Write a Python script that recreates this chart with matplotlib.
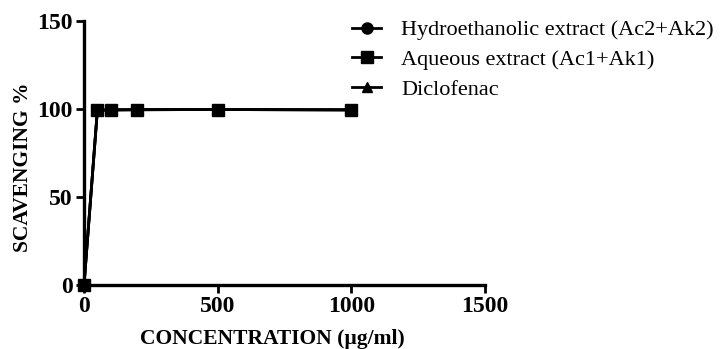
import matplotlib.pyplot as plt

conc = [0, 50, 100, 200, 500, 1000]
hydro = [0, 99.3, 99.5, 99.6, 99.7, 99.5]
aqueous = [0, 99.3, 99.5, 99.6, 99.7, 99.5]
diclo = [0, 99.3, 99.5, 99.6, 99.7, 99.5]

plt.rcParams['font.family'] = ['Liberation Serif', 'DejaVu Serif']

fig = plt.figure(figsize=(7.21, 3.49), dpi=100)
ax = fig.add_axes([0.1165, 0.183, 0.5565, 0.757])

ax.plot(conc, hydro, color='black', lw=2, marker='o', ms=8, clip_on=False, zorder=3,
        label='Hydroethanolic extract (Ac2+Ak2)')
ax.plot(conc, aqueous, color='black', lw=2, marker='s', ms=8.5, clip_on=False, zorder=5,
        label='Aqueous extract (Ac1+Ak1)')
ax.plot(conc, diclo, color='black', lw=2, marker='^', ms=7, clip_on=False, zorder=2,
        label='Diclofenac')

ax.set_xlim(0, 1500)
ax.set_ylim(0, 150)
ax.set_xticks([0, 500, 1000, 1500])
ax.set_yticks([0, 50, 100, 150])
for s in ['top', 'right']:
    ax.spines[s].set_visible(False)
for s in ['left', 'bottom']:
    ax.spines[s].set_linewidth(2.4)
ax.tick_params(width=2, length=6, labelsize=17, pad=2)
for t in ax.get_xticklabels() + ax.get_yticklabels():
    t.set_fontweight('bold')

ax.set_xlabel('CONCENTRATION (µg/ml)', fontsize=15.5, fontweight='bold')
ax.xaxis.set_label_coords(0.47, -0.167)
ax.set_ylabel('SCAVENGING %', fontsize=15.5, fontweight='bold')
ax.yaxis.set_label_coords(-0.127, 0.447)

ax.legend(loc='upper left', bbox_to_anchor=(0.646, 1.038), frameon=False, fontsize=16,
          handlelength=1.3, handletextpad=0.9, labelspacing=0.41, borderaxespad=0)

fig.savefig('out.png', dpi=100)
